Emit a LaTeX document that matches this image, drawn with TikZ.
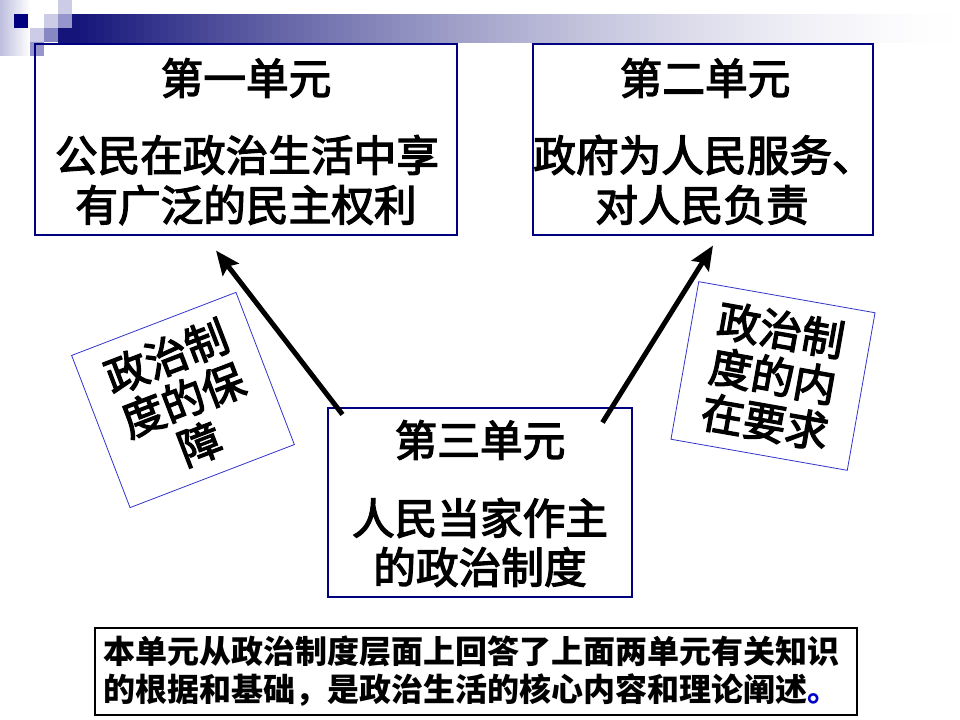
\documentclass[tikz,border=0pt]{standalone}
\usepackage{fontspec}
\newfontfamily\cjk{Noto Sans CJK SC}
\newfontfamily\cjkmid[BoldFont={Noto Sans CJK SC}, BoldFeatures={FakeBold=3}]{Noto Sans CJK SC}
\usetikzlibrary{arrows.meta,calc}
\definecolor{navyb}{RGB}{0,0,128}
\definecolor{bardark}{RGB}{20,20,122}
\definecolor{sqlight}{RGB}{204,204,230}
\definecolor{sqmid}{RGB}{150,150,204}
\definecolor{stripc}{RGB}{190,190,222}
\definecolor{rotblue}{RGB}{51,51,204}
\definecolor{stopblue}{RGB}{0,0,200}
\tikzset{
  unitbox/.style={draw=navyb, line width=0.8pt, inner sep=0pt},
  bigtxt/.style={font=\cjkmid\bfseries\fontsize{32}{36}\selectfont, inner sep=0pt},
  tiltbox/.style={draw=rotblue, line width=0.6pt, inner sep=0pt, align=center,
    font=\cjkmid\bfseries\fontsize{32}{35}\selectfont},
  notebox/.style={draw=black, line width=0.8pt, inner sep=0pt},
  notetxt/.style={font=\cjk\bfseries\fontsize{24}{28.5}\selectfont, inner sep=0pt, align=left},
  bigarrow/.style={line width=3.75pt, -{Stealth[length=18pt,width=15pt,inset=3pt]}},
}
\begin{document}
\begin{tikzpicture}[x=0.75pt,y=-0.75pt]
\useasboundingbox (0,0) rectangle (960,720);
% decorative header
\shade[left color=stripc, right color=white] (0,0) rectangle (30,56);
\fill[bardark] (58,14) rectangle (72,43);
\foreach \i in {0,...,110}{
  \pgfmathsetmacro\p{100*pow(1-\i/111,1.6)}
  \fill[bardark!\p!white] ({72+\i*8},14) rectangle ({72+\i*8+8.6},43);
}
\fill[navyb] (14,14) rectangle (28,28);
\fill[sqlight] (58,0) rectangle (72,14);
\fill[sqlight] (44,14) rectangle (58,28);
\fill[sqmid] (58,14) rectangle (72,28);
\fill[sqlight] (30,28) rectangle (44,42);
\fill[sqmid!90!navyb] (44,28) rectangle (58,42);
\fill[sqmid] (30,42) rectangle (44,56);
% unit boxes
\node[unitbox, minimum width=316.5pt, minimum height=143.25pt] (b1) at (246,139.5) {};
\node[bigtxt] (t1a) at (246,78) {第一单元};
\node[bigtxt] (t1b) at (247,155) {公民在政治生活中享};
\node[bigtxt] (t1c) at (246,205) {有广泛的民主权利};
\node[unitbox, minimum width=255pt, minimum height=143.25pt] (b2) at (703,139.5) {};
\node[bigtxt] (t2a) at (705,78) {第二单元};
\node[bigtxt] (t2b) at (704,155) {政府为人民服务、};
\node[bigtxt] (t2c) at (702,205) {对人民负责};
\node[unitbox, minimum width=228pt, minimum height=141.75pt] (b3) at (480,502.5) {};
\node[bigtxt] (t3a) at (480,440) {第三单元};
\node[bigtxt] (t3b) at (480,518) {人民当家作主};
\node[bigtxt] (t3c) at (480,567) {的政治制度};
% tilted boxes
\node[tiltbox, rotate=21, minimum width=132pt, minimum height=122.25pt] (lb) at (183,400) {政治制\\度的保\\障};
\node[tiltbox, rotate=-10, minimum width=134.25pt, minimum height=120pt] (rb) at (773,376) {政治制\\度的内\\在要求};
% arrows
\draw[bigarrow] ($(b3.north west)+(15,7)$) -- ($(b1.south)+(-30,15)$);
\draw[bigarrow] ($(b3.north east)+(-30,15)$) -- ($(b2.south)+(10,10)$);
% note box
\node[notebox, minimum width=571.5pt, minimum height=65.25pt] (nb) at (476,671.5) {};
\node[notetxt, anchor=west] (nt) at (103,671) {本单元从政治制度层面上回答了上面两单元有关知识\\的根据和基础，是政治生活的核心内容和理论阐述{\color{stopblue}。}};
\end{tikzpicture}
\end{document}
